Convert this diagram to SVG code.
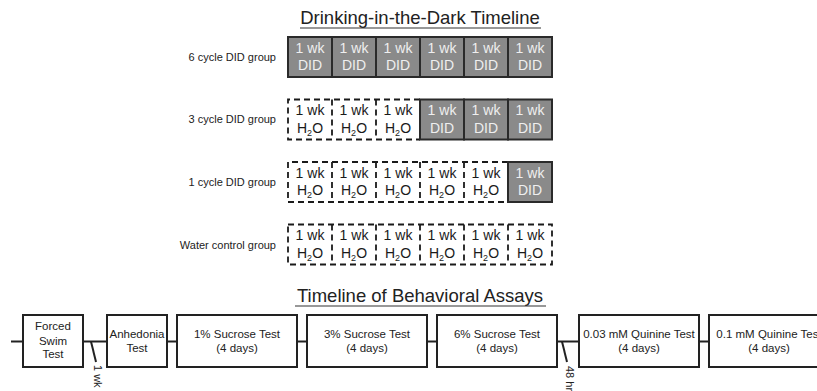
<svg xmlns="http://www.w3.org/2000/svg" width="817" height="391" viewBox="0 0 817 391">
<style>
text{font-family:"Liberation Sans",Arial,sans-serif;}
.title{font-size:18.5px;fill:#222;text-anchor:middle;}
.ul{stroke:#333;stroke-width:1.2;}
.lbl{font-size:11px;fill:#222;text-anchor:end;}
.did rect{fill:#8a8a8a;stroke:#2a2a2a;stroke-width:2;}
.did text{font-size:14px;fill:#efefef;text-anchor:middle;}
.h2o text{font-size:14px;fill:#1a1a1a;text-anchor:middle;}
.sub{font-size:9px;}
.dash{fill:none;stroke:#1a1a1a;stroke-width:1.8;stroke-dasharray:6,4;}
.box rect{fill:#fff;stroke:#222;stroke-width:2;}
.box text{font-size:11.5px;fill:#222;text-anchor:middle;}
.conn line{stroke:#222;stroke-width:2;}
.conn text{font-size:11px;fill:#222;}
</style>

<text class="title" x="420" y="24">Drinking-in-the-Dark Timeline</text>
<line class="ul" x1="300" y1="28" x2="541" y2="28"/>

<!-- Row 1 -->
<text class="lbl" x="276" y="61">6 cycle DID group</text>
<g id="r1c1" class="did"><rect x="288" y="37" width="44" height="40"/><text x="310" y="52.5">1 wk</text><text x="310" y="70">DID</text></g>
<g id="r1c2" class="did"><rect x="332" y="37" width="44" height="40"/><text x="354" y="52.5">1 wk</text><text x="354" y="70">DID</text></g>
<g id="r1c3" class="did"><rect x="376" y="37" width="44" height="40"/><text x="398" y="52.5">1 wk</text><text x="398" y="70">DID</text></g>
<g id="r1c4" class="did"><rect x="420" y="37" width="44" height="40"/><text x="442" y="52.5">1 wk</text><text x="442" y="70">DID</text></g>
<g id="r1c5" class="did"><rect x="464" y="37" width="44" height="40"/><text x="486" y="52.5">1 wk</text><text x="486" y="70">DID</text></g>
<g id="r1c6" class="did"><rect x="508" y="37" width="44" height="40"/><text x="530" y="52.5">1 wk</text><text x="530" y="70">DID</text></g>

<!-- Row 2 -->
<text class="lbl" x="276" y="123">3 cycle DID group</text>
<path class="dash" d="M420,99.5 H288 V139.5 H420 M332,99.5 V139.5 M376,99.5 V139.5"/>
<g id="r2c1" class="h2o"><text x="310" y="115">1 wk</text><text x="310" y="132.5">H<tspan class="sub" dy="3">2</tspan><tspan dy="-3">O</tspan></text></g>
<g id="r2c2" class="h2o"><text x="354" y="115">1 wk</text><text x="354" y="132.5">H<tspan class="sub" dy="3">2</tspan><tspan dy="-3">O</tspan></text></g>
<g id="r2c3" class="h2o"><text x="398" y="115">1 wk</text><text x="398" y="132.5">H<tspan class="sub" dy="3">2</tspan><tspan dy="-3">O</tspan></text></g>
<g id="r2c4" class="did"><rect x="420" y="99.5" width="44" height="40"/><text x="442" y="115">1 wk</text><text x="442" y="132.5">DID</text></g>
<g id="r2c5" class="did"><rect x="464" y="99.5" width="44" height="40"/><text x="486" y="115">1 wk</text><text x="486" y="132.5">DID</text></g>
<g id="r2c6" class="did"><rect x="508" y="99.5" width="44" height="40"/><text x="530" y="115">1 wk</text><text x="530" y="132.5">DID</text></g>

<!-- Row 3 -->
<text class="lbl" x="276" y="186">1 cycle DID group</text>
<path class="dash" d="M508,162 H288 V202 H508 M332,162 V202 M376,162 V202 M420,162 V202 M464,162 V202"/>
<g id="r3c1" class="h2o"><text x="310" y="177.5">1 wk</text><text x="310" y="195">H<tspan class="sub" dy="3">2</tspan><tspan dy="-3">O</tspan></text></g>
<g id="r3c2" class="h2o"><text x="354" y="177.5">1 wk</text><text x="354" y="195">H<tspan class="sub" dy="3">2</tspan><tspan dy="-3">O</tspan></text></g>
<g id="r3c3" class="h2o"><text x="398" y="177.5">1 wk</text><text x="398" y="195">H<tspan class="sub" dy="3">2</tspan><tspan dy="-3">O</tspan></text></g>
<g id="r3c4" class="h2o"><text x="442" y="177.5">1 wk</text><text x="442" y="195">H<tspan class="sub" dy="3">2</tspan><tspan dy="-3">O</tspan></text></g>
<g id="r3c5" class="h2o"><text x="486" y="177.5">1 wk</text><text x="486" y="195">H<tspan class="sub" dy="3">2</tspan><tspan dy="-3">O</tspan></text></g>
<g id="r3c6" class="did"><rect x="508" y="162" width="44" height="40"/><text x="530" y="177.5">1 wk</text><text x="530" y="195">DID</text></g>

<!-- Row 4 -->
<text class="lbl" x="276" y="248.5">Water control group</text>
<path class="dash" d="M288,224.5 H552 V264.5 H288 Z M332,224.5 V264.5 M376,224.5 V264.5 M420,224.5 V264.5 M464,224.5 V264.5 M508,224.5 V264.5"/>
<g id="r4c1" class="h2o"><text x="310" y="240">1 wk</text><text x="310" y="257.5">H<tspan class="sub" dy="3">2</tspan><tspan dy="-3">O</tspan></text></g>
<g id="r4c2" class="h2o"><text x="354" y="240">1 wk</text><text x="354" y="257.5">H<tspan class="sub" dy="3">2</tspan><tspan dy="-3">O</tspan></text></g>
<g id="r4c3" class="h2o"><text x="398" y="240">1 wk</text><text x="398" y="257.5">H<tspan class="sub" dy="3">2</tspan><tspan dy="-3">O</tspan></text></g>
<g id="r4c4" class="h2o"><text x="442" y="240">1 wk</text><text x="442" y="257.5">H<tspan class="sub" dy="3">2</tspan><tspan dy="-3">O</tspan></text></g>
<g id="r4c5" class="h2o"><text x="486" y="240">1 wk</text><text x="486" y="257.5">H<tspan class="sub" dy="3">2</tspan><tspan dy="-3">O</tspan></text></g>
<g id="r4c6" class="h2o"><text x="530" y="240">1 wk</text><text x="530" y="257.5">H<tspan class="sub" dy="3">2</tspan><tspan dy="-3">O</tspan></text></g>

<!-- Behavioral timeline -->
<text class="title" x="420" y="302">Timeline of Behavioral Assays</text>
<line class="ul" x1="295" y1="306" x2="546" y2="306"/>

<g id="connectors" class="conn">
<line x1="11" y1="341.5" x2="23" y2="341.5"/>
<line x1="83" y1="341.5" x2="107" y2="341.5"/>
<line x1="91" y1="341.5" x2="96" y2="362" stroke-width="1.8"/>
<text transform="translate(94,365) rotate(90)">1 wk</text>
<line x1="167" y1="341.5" x2="177" y2="341.5"/>
<line x1="297" y1="341.5" x2="307" y2="341.5"/>
<line x1="427" y1="341.5" x2="437" y2="341.5"/>
<line x1="557" y1="341.5" x2="579" y2="341.5"/>
<line x1="562" y1="341.5" x2="567" y2="362" stroke-width="1.8"/>
<text transform="translate(566,366) rotate(90)">48 hr</text>
<line x1="699" y1="341.5" x2="709" y2="341.5"/>
</g>

<g id="fst" class="box"><rect x="23" y="315" width="60" height="52"/><text x="53" y="330">Forced</text><text x="53" y="344.5">Swim</text><text x="53" y="358">Test</text></g>
<g id="anh" class="box"><rect x="107" y="315" width="60" height="52"/><text x="137" y="338">Anhedonia</text><text x="137" y="351.5">Test</text></g>
<g id="suc1" class="box"><rect x="177" y="315" width="120" height="52"/><text x="237" y="338">1% Sucrose Test</text><text x="237" y="351.5">(4 days)</text></g>
<g id="suc3" class="box"><rect x="307" y="315" width="120" height="52"/><text x="367" y="338">3% Sucrose Test</text><text x="367" y="351.5">(4 days)</text></g>
<g id="suc6" class="box"><rect x="437" y="315" width="120" height="52"/><text x="497" y="338">6% Sucrose Test</text><text x="497" y="351.5">(4 days)</text></g>
<g id="qui003" class="box"><rect x="579" y="315" width="120" height="52"/><text x="639" y="338">0.03 mM Quinine Test</text><text x="639" y="351.5">(4 days)</text></g>
<g id="qui01" class="box"><rect x="709" y="315" width="120" height="52"/><text x="769" y="338">0.1 mM Quinine Test</text><text x="769" y="351.5">(4 days)</text></g>
</svg>
